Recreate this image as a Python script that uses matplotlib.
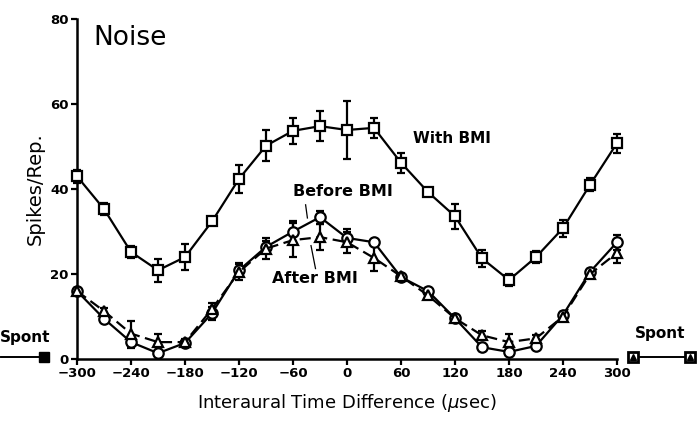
from matplotlib import pyplot as plt

# interaural time difference (usec)
itd = [-300, -270, -240, -210, -180, -150, -120, -90, -60, -30, 0,
       30, 60, 90, 120, 150, 180, 210, 240, 270, 300]

with_bmi = [43, 35.3, 25.2, 20.9, 24, 32.4, 42.4, 50.2, 53.7, 54.8, 53.9,
            54.4, 46.2, 39.3, 33.6, 23.7, 18.6, 24, 30.8, 41, 50.8]
with_err = [1.5, 1.5, 1.5, 2.7, 3, 0.5, 3.3, 3.6, 3.1, 3.6, 6.8,
            2.3, 2.3, 0.5, 3, 2, 1.5, 1.5, 2, 1.5, 2.2]

before_bmi = [16, 9.5, 4, 1.4, 3.8, 10.8, 20.9, 26.4, 30, 33.4, 28.5,
              27.5, 19.3, 16, 9.6, 2.8, 1.7, 3.1, 10.4, 20.5, 27.5]
before_err = [0.8, 0.8, 1.5, 0.8, 0.8, 1.5, 1.5, 1.5, 2.5, 1.5, 2,
              0.5, 0.5, 0.8, 0.5, 0.8, 0.8, 0.8, 0.8, 0.8, 1.8]

after_bmi = [16, 11.3, 6, 4, 4, 11.8, 20.5, 26, 28, 28.7, 27.5,
             23.8, 19.5, 15, 9.6, 5.6, 4, 4.9, 10, 20, 25]
after_err = [0.8, 0.8, 3, 2, 0.8, 1.5, 2, 2.5, 4, 3, 2.5,
             3, 0.5, 0.8, 0.5, 1, 2, 0.8, 0.8, 1, 2.5]

# spontaneous rate, drawn outside the ITD range on each side
spont_left_x = [-385, -337]
spont_right_x = [318, 381]
spont_rate = [0.4, 0.4]

x_ticks = [-300, -240, -180, -120, -60, 0, 60, 120, 180, 240, 300]
y_ticks = [0, 20, 40, 60, 80]

STYLE = dict(color='black', mfc='white', mec='black', mew=1.6, lw=1.6,
             elinewidth=1.6, capsize=3, capthick=1.6, clip_on=False, zorder=3)


def main():
    plt.rcParams['font.family'] = ['DejaVu Sans']
    fig = plt.figure(figsize=(6.97, 4.23), dpi=100)
    ax = fig.add_axes([0.1105, 0.151, 0.7747, 0.804])

    ax.errorbar(itd, with_bmi, yerr=with_err, fmt='s', ls='-', ms=7.5, **STYLE)
    ax.errorbar(itd, before_bmi, yerr=before_err, fmt='o', ls='-', ms=7.5, **STYLE)
    ax.errorbar(itd, after_bmi, yerr=after_err, fmt='^', ls=(0, (5, 2.5)), ms=7, **STYLE)

    # spont markers beyond the axis
    for xs in (spont_left_x, spont_right_x):
        ax.plot(xs, spont_rate, color='black', lw=1.4, clip_on=False, zorder=2)
    ax.plot([spont_left_x[1]], [spont_rate[1]], 's', ms=7, mfc='black', mec='black', clip_on=False, zorder=4)
    for xv in spont_right_x:
        ax.plot([xv], [spont_rate[0]], 's', ms=7, mfc='white', mec='black', mew=2, clip_on=False, zorder=4)
        ax.plot([xv], [spont_rate[0]], '^', ms=4, mfc='black', mec='black', clip_on=False, zorder=5)
    ax.text(-386, 5.2, 'Spont', ha='left', va='center', fontsize=11, fontweight='bold')
    ax.text(320, 6, 'Spont', ha='left', va='center', fontsize=11, fontweight='bold')

    ax.text(-282, 75.5, 'Noise', ha='left', va='center', fontsize=19)
    ax.text(117, 52, 'With BMI', ha='center', va='center', fontsize=11, fontweight='bold')
    ax.text(-5, 39.5, 'Before BMI', ha='center', va='center', fontsize=11.5, fontweight='bold')
    ax.text(-36, 19, 'After BMI', ha='center', va='center', fontsize=11.5, fontweight='bold')
    ax.plot([-46, -44], [36.3, 33.2], color='black', lw=0.9)
    ax.plot([-35, -40], [21.3, 26.7], color='black', lw=0.9)

    ax.set_xlim(-300, 300)
    ax.set_ylim(0, 80)
    ax.set_xticks(x_ticks)
    ax.set_yticks(y_ticks)
    ax.set_xticklabels([str(t).replace('-', '\u2212') for t in x_ticks], fontsize=9.5, fontweight='bold')
    ax.set_yticklabels([str(t) for t in y_ticks], fontsize=9.5, fontweight='bold')
    ax.tick_params(direction='out', length=4, width=1.6, pad=2)
    for side in ('top', 'right'):
        ax.spines[side].set_visible(False)
    for side in ('left', 'bottom'):
        ax.spines[side].set_linewidth(1.8)

    ax.set_xlabel('Interaural Time Difference ($\\mu$sec)', fontsize=13, labelpad=8)
    ax.set_ylabel('Spikes/Rep.', fontsize=14, labelpad=4)

    plt.savefig('out.png', dpi=100)
    plt.close(fig)


if __name__ == "__main__":
    main()
